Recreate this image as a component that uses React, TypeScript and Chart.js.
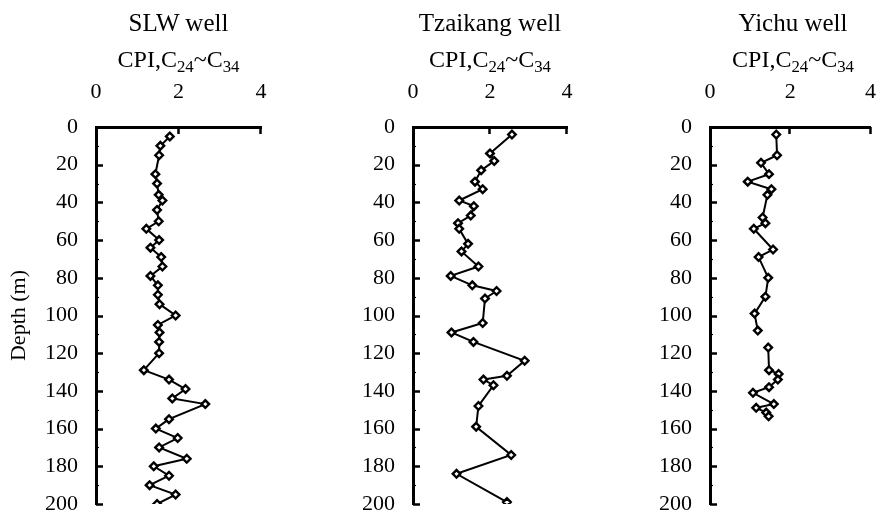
import React, { useEffect, useRef } from 'react';
import { Chart, registerables } from 'chart.js';

Chart.register(...registerables);

// ---- Data ----
const slwDepth = [5, 10, 15, 25, 30, 36, 39, 44, 50, 54, 60, 64, 69, 74, 79, 84, 89, 94, 100, 105, 109, 114, 120, 129, 134, 139, 144, 147, 155, 160, 165, 170, 176, 180, 185, 190, 195, 200];
const slwCPI = [1.79, 1.56, 1.53, 1.44, 1.48, 1.52, 1.61, 1.48, 1.52, 1.22, 1.53, 1.32, 1.58, 1.61, 1.32, 1.5, 1.5, 1.54, 1.93, 1.5, 1.54, 1.53, 1.53, 1.16, 1.77, 2.17, 1.85, 2.65, 1.77, 1.45, 1.98, 1.53, 2.2, 1.4, 1.77, 1.3, 1.93, 1.48];

const tzDepth = [4, 14, 18, 23, 29, 33, 39, 42, 47, 51, 54, 62, 66, 74, 79, 84, 87, 91, 104, 109, 114, 124, 132, 134, 137, 148, 159, 174, 184, 199];
const tzCPI = [2.57, 2.0, 2.11, 1.77, 1.61, 1.81, 1.2, 1.58, 1.5, 1.17, 1.2, 1.43, 1.26, 1.7, 0.98, 1.54, 2.17, 1.87, 1.81, 1.0, 1.57, 2.9, 2.44, 1.83, 2.09, 1.7, 1.64, 2.55, 1.13, 2.44];

const ycDepth = [4, 15, 19, 25, 29, 33, 36, 48, 51, 54, 65, 69, 80, 90, 99, 108, null, 117, 129, 131, 134, 138, 141, 147, 149, 151.5, 153.5];
const ycCPI = [1.65, 1.67, 1.27, 1.47, 0.94, 1.53, 1.43, 1.31, 1.38, 1.09, 1.57, 1.21, 1.45, 1.38, 1.11, 1.19, null, 1.45, 1.47, 1.71, 1.69, 1.47, 1.07, 1.59, 1.15, 1.4, 1.46];

const xTicks = [0, 2, 4];
const depthTicks = [0, 20, 40, 60, 80, 100, 120, 140, 160, 180, 200];
const minorDepthTicks = [10, 30, 50, 70, 90, 110, 130, 150, 170, 190];

const FONT = "'Liberation Serif', 'Times New Roman', serif";
const H = 516;
const AREA_TOP = 127;
const AREA_BOTTOM = 504;

const insideTicks = {
  id: 'insideTicks',
  afterDraw(chart: any) {
    const { ctx, chartArea, scales } = chart;
    const xs = scales.x;
    const ys = scales.y;
    ctx.save();
    ctx.strokeStyle = '#000';
    ctx.lineCap = 'butt';
    ctx.lineWidth = 2.5;
    for (const v of depthTicks) {
      if (v === 0) continue;
      const py = Math.round(ys.getPixelForValue(v)) + 0.5;
      ctx.beginPath();
      ctx.moveTo(chartArea.left, py);
      ctx.lineTo(chartArea.left + 7, py);
      ctx.stroke();
    }
    ctx.lineWidth = 1.2;
    for (const v of minorDepthTicks) {
      const py = Math.round(ys.getPixelForValue(v)) + 0.5;
      ctx.beginPath();
      ctx.moveTo(chartArea.left, py);
      ctx.lineTo(chartArea.left + 3, py);
      ctx.stroke();
    }
    ctx.lineWidth = 2.5;
    for (const v of xTicks) {
      if (v === 0) continue;
      const px = Math.round(xs.getPixelForValue(v)) - 0.5;
      ctx.beginPath();
      ctx.moveTo(px, chartArea.top);
      ctx.lineTo(px, chartArea.top + 7);
      ctx.stroke();
    }
    ctx.restore();
  },
};

type PanelProps = {
  left: number;
  width: number;
  areaLeft: number;
  areaRight: number;
  depth: (number | null)[];
  cpi: (number | null)[];
  title: string;
  showYTitle: boolean;
};

function Panel({ left, width, areaLeft, areaRight, depth, cpi, title, showYTitle }: PanelProps) {
  const ref = useRef<HTMLCanvasElement | null>(null);

  useEffect(() => {
    if (!ref.current) return;
    const yAxisWidth = areaLeft - left;
    const padRight = left + width - areaRight;
    const points = depth.map((d, i) => ({ x: cpi[i] as any, y: d as any }));
    const chart = new Chart(ref.current, {
      type: 'line',
      data: {
        datasets: [
          {
            data: points,
            borderColor: '#000',
            borderWidth: 2,
            pointStyle: 'rectRot',
            pointRadius: 3.8,
            pointBorderWidth: 2.4,
            pointBorderColor: '#000',
            pointBackgroundColor: '#fff',
            tension: 0,
            spanGaps: false,
            fill: false,
          },
        ],
      },
      options: {
        responsive: false,
        animation: false,
        devicePixelRatio: 1,
        layout: { padding: { left: 0, right: padRight, top: 0, bottom: H - AREA_BOTTOM } },
        plugins: {
          legend: { display: false },
          tooltip: { enabled: false },
          title: { display: false },
        },
        scales: {
          x: {
            type: 'linear',
            position: 'top',
            min: 0,
            max: 4,
            afterBuildTicks: (s: any) => {
              s.ticks = xTicks.map((v) => ({ value: v }));
            },
            afterFit: (s: any) => {
              s.height = AREA_TOP;
              s.paddingLeft = 0;
              s.paddingRight = 0;
              s.paddingTop = 0;
              s.paddingBottom = 0;
            },
            grid: { display: true, drawOnChartArea: false, drawTicks: false },
            border: { display: true, width: 3, color: '#000' },
            ticks: {
              padding: 22,
              color: '#000',
              maxRotation: 0,
              autoSkip: false,
              font: { family: FONT, size: 22 },
            },
          },
          y: {
            type: 'linear',
            reverse: true,
            min: 0,
            max: 200,
            afterBuildTicks: (s: any) => {
              s.ticks = depthTicks.map((v) => ({ value: v }));
            },
            afterFit: (s: any) => {
              s.width = yAxisWidth;
              s.paddingLeft = 0;
              s.paddingRight = 0;
              s.paddingTop = 0;
              s.paddingBottom = 0;
            },
            title: {
              display: showYTitle,
              text: 'Depth (m)',
              color: '#000',
              font: { family: FONT, size: 22 },
              padding: { top: 6, bottom: 0 },
            },
            grid: { display: true, drawOnChartArea: false, drawTicks: false },
            border: { display: true, width: 3, color: '#000' },
            ticks: {
              padding: 18,
              color: '#000',
              autoSkip: false,
              font: { family: FONT, size: 22 },
            },
          },
        },
      } as any,
      plugins: [insideTicks],
    });
    return () => chart.destroy();
  }, []);

  const cx = (areaLeft + areaRight) / 2;
  const titleStyle: React.CSSProperties = {
    position: 'absolute',
    left: cx - 120,
    width: 240,
    textAlign: 'center',
    fontFamily: FONT,
    lineHeight: '30px',
    color: '#000',
    whiteSpace: 'nowrap',
  };
  const subStyle: React.CSSProperties = {
    fontSize: '0.7em',
    position: 'relative',
    top: '0.3em',
  };

  return (
    <>
      <div style={{ position: 'absolute', left, top: 0, width, height: H }}>
        <canvas ref={ref} width={width} height={H} style={{ display: 'block', width, height: H }} />
      </div>
      <div style={{ ...titleStyle, top: 8, fontSize: 25 }}>{title}</div>
      <div style={{ ...titleStyle, top: 44, fontSize: 24 }}>
        CPI,C<span style={subStyle}>24</span>~C<span style={subStyle}>34</span>
      </div>
    </>
  );
}

export default function App() {
  return (
    <div
      style={{
        position: 'absolute',
        left: 0,
        top: 0,
        width: 877,
        height: H,
        background: '#fff',
        overflow: 'hidden',
      }}
    >
      <Panel left={0} width={290} areaLeft={96} areaRight={261} depth={slwDepth} cpi={slwCPI} title="SLW well" showYTitle={true} />
      <Panel left={300} width={290} areaLeft={413} areaRight={567} depth={tzDepth} cpi={tzCPI} title="Tzaikang well" showYTitle={false} />
      <Panel left={600} width={277} areaLeft={710} areaRight={876} depth={ycDepth} cpi={ycCPI} title="Yichu well" showYTitle={false} />
    </div>
  );
}
